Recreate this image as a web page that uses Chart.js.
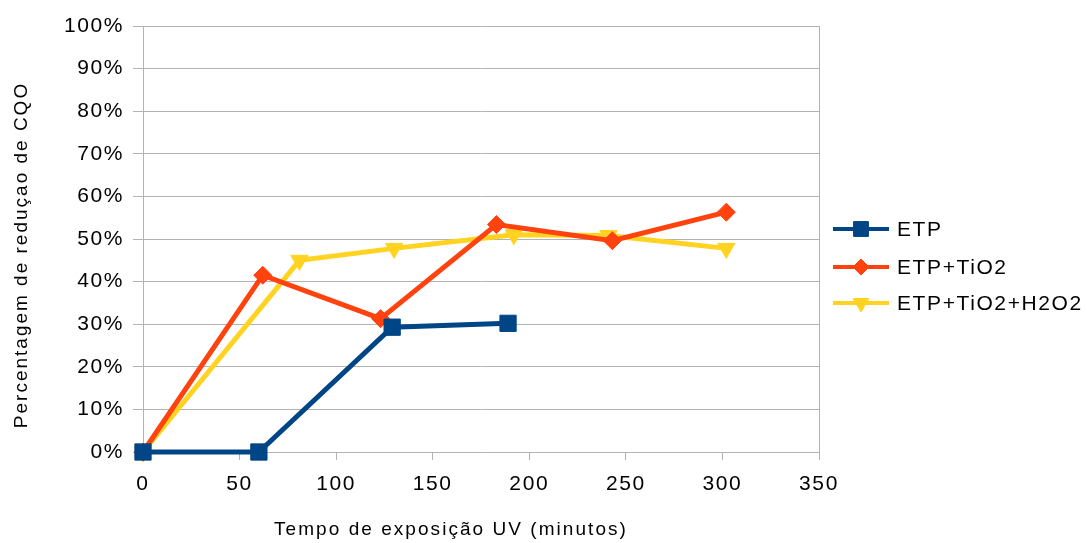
<!doctype html>
<html lang="pt">

<head>
    <meta charset="utf-8">
    <title>Redução de CQO</title>
    <script src="https://cdn.jsdelivr.net/npm/chart.js"></script>
    <style>
        body { margin: 0; background: #ffffff; }
        #wrap { width: 1087px; height: 543px; }
    </style>
</head>

<body>
    <div id="wrap"><canvas id="grafico" width="1087" height="543"></canvas></div>

    <script>
        // dados (tempo em minutos, redução em %)
        const series_names = ["ETP", "ETP+TiO2", "ETP+TiO2+H2O2"];
        const etp_tempo = [0, 60, 129, 189];
        const etp_reducao = [0, 0, 29.3, 30.2];
        const tio2_tempo = [0, 62, 123, 183, 243, 302];
        const tio2_reducao = [0, 41.5, 31.3, 53.4, 49.6, 56.3];
        const h2o2_tempo = [0, 81, 130, 192, 241, 302];
        const h2o2_reducao = [0, 45.0, 47.8, 51.0, 50.8, 47.8];
        const x_ticks = [0, 50, 100, 150, 200, 250, 300, 350];
        const y_ticks = [0, 10, 20, 30, 40, 50, 60, 70, 80, 90, 100];
        const titulo_x = "Tempo de exposição UV (minutos)";
        const titulo_y = "Percentagem de reduçao de CQO";

        const cores = ["#004586", "#ff420e", "#ffd320"];
        const estilos = ["rect", "rectRot", "triangle"];
        const raios = [11.5, 9, 10];
        const rotacoes = [0, 0, 180];
        const cinza = "#b3b3b3";
        const fonte = "'Liberation Sans', Arial, sans-serif";

        function pares(xs, ys) {
            let out = [];
            for (i = 0; i < xs.length; i++) {
                out.push({ x: xs[i], y: ys[i] });
            }
            return out;
        }

        const todos_x = [etp_tempo, tio2_tempo, h2o2_tempo];
        const todos_y = [etp_reducao, tio2_reducao, h2o2_reducao];
        const datasets = [];
        for (s = 0; s < series_names.length; s++) {
            datasets.push({
                label: series_names[s],
                data: pares(todos_x[s], todos_y[s]),
                borderColor: cores[s],
                backgroundColor: cores[s],
                borderWidth: 5,
                pointStyle: estilos[s],
                pointRadius: raios[s],
                pointRotation: rotacoes[s],
                pointBorderWidth: 1,
                pointBorderColor: cores[s],
                pointBackgroundColor: cores[s],
                clip: false,
                tension: 0
            });
        }

        // espaçamento das letras como no original
        const espacamento = {
            id: 'espacamento',
            beforeDraw(chart) {
                chart.ctx.letterSpacing = '1.6px';
            }
        };

        // títulos dos eixos e legenda à direita (linha + marcador + texto)
        const extras = {
            id: 'extras',
            afterDraw(chart) {
                const ctx = chart.ctx;
                ctx.save();
                ctx.fillStyle = "#000000";
                ctx.textAlign = "center";
                ctx.textBaseline = "middle";
                ctx.font = "19px " + fonte;
                ctx.letterSpacing = '2.05px';
                ctx.fillText(titulo_x, 451, 530);
                ctx.translate(22, 255);
                ctx.rotate(-Math.PI / 2);
                ctx.letterSpacing = '2px';
                ctx.fillText(titulo_y, 0, 0);
                ctx.restore();

                const linhas_y = [229, 267, 303];
                ctx.save();
                for (s = 0; s < series_names.length; s++) {
                    const y = linhas_y[s];
                    ctx.strokeStyle = cores[s];
                    ctx.lineWidth = 4;
                    ctx.beginPath();
                    ctx.moveTo(833, y);
                    ctx.lineTo(889, y);
                    ctx.stroke();
                    ctx.fillStyle = cores[s];
                    ctx.strokeStyle = cores[s];
                    ctx.lineWidth = 1;
                    Chart.helpers.drawPoint(ctx, {
                        pointStyle: estilos[s],
                        rotation: rotacoes[s],
                        radius: raios[s] - 1,
                        borderWidth: 1
                    }, 861, y);
                    ctx.fillStyle = "#000000";
                    ctx.font = "21px " + fonte;
                    ctx.letterSpacing = '1.6px';
                    ctx.textAlign = "left";
                    ctx.textBaseline = "middle";
                    ctx.fillText(series_names[s], 897, y + 1);
                }
                ctx.restore();
            }
        };

        const ctx = document.getElementById('grafico');
        new Chart(ctx, {
            type: 'line',
            data: { datasets: datasets },
            plugins: [espacamento, extras],
            options: {
                responsive: false,
                animation: false,
                layout: { padding: { left: 0, right: 268, top: 26, bottom: 0 } },
                plugins: {
                    legend: { display: false },
                    tooltip: { enabled: false }
                },
                scales: {
                    x: {
                        type: 'linear',
                        min: 0,
                        max: 350,
                        afterFit: function (scale) { scale.height = 91; },
                        afterBuildTicks: function (scale) {
                            scale.ticks = x_ticks.map(v => ({ value: v }));
                        },
                        ticks: {
                            color: "#000000",
                            font: { family: fonte, size: 21 },
                            padding: 12,
                            maxRotation: 0
                        },
                        grid: {
                            color: function (c) { return c.tick && c.tick.value === 350 ? cinza : 'transparent'; },
                            tickColor: cinza,
                            tickLength: 8,
                            lineWidth: 1
                        },
                        border: { color: cinza }
                    },
                    y: {
                        min: 0,
                        max: 100,
                        afterFit: function (scale) { scale.width = 143; },
                        afterBuildTicks: function (scale) {
                            scale.ticks = y_ticks.map(v => ({ value: v }));
                        },
                        ticks: {
                            color: "#000000",
                            font: { family: fonte, size: 21 },
                            padding: 9,
                            callback: function (v) { return v + "%"; }
                        },
                        grid: {
                            color: cinza,
                            tickColor: cinza,
                            tickLength: 10,
                            lineWidth: 1
                        },
                        border: { color: cinza }
                    }
                }
            }
        });
    </script>
</body>

</html>
